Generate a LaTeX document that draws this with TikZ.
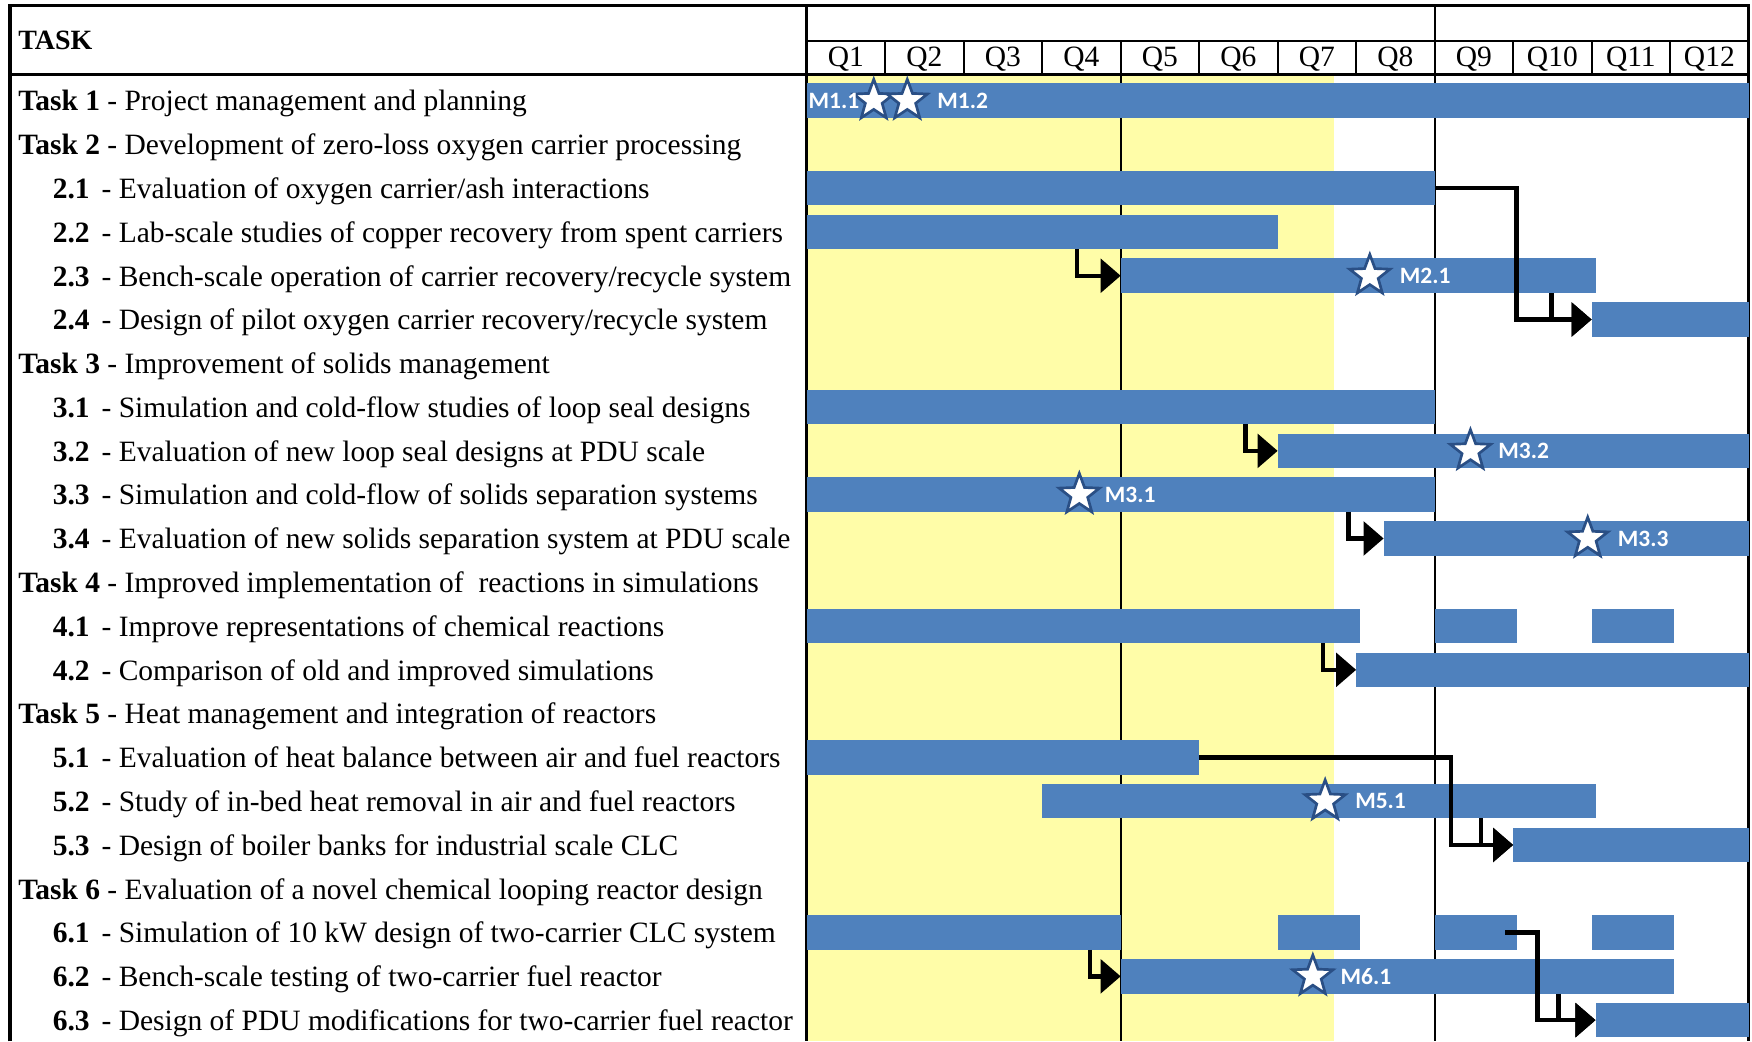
\documentclass[tikz,border=0pt]{standalone}
\usepackage{fontspec}
\setmainfont{Liberation Serif}
\newfontfamily\barfont{Carlito}
\usepackage{tikz}
\usetikzlibrary{arrows.meta,positioning,shapes.geometric,fit,calc}
\definecolor{barblue}{HTML}{4F81BD}
\definecolor{starline}{HTML}{2A4F85}
\definecolor{phaseyellow}{HTML}{FFFDA8}
\tikzset{
  taskbar/.style={fill=barblue,inner sep=0pt,outer sep=0pt},
  tasktext/.style={anchor=base west,inner sep=0pt,font=\fontsize{13.2}{15}\selectfont},
  qtext/.style={anchor=base,inner sep=0pt,font=\fontsize{13.2}{15}\selectfont},
  mstar/.style={star,star points=5,star point ratio=2.4,minimum size=19pt,inner sep=0pt,fill=white,draw=starline,line width=1.2pt},
  mlabel/.style={inner sep=1pt,text=white,font=\barfont\bfseries\fontsize{10.5}{12}\selectfont},
  dep/.style={-{Triangle[length=9pt,width=15pt]},line width=2pt,black},
  frameline/.style={line width=1.4pt},
  gridline/.style={line width=0.9pt}
}

\begin{document}
\begin{tikzpicture}[x=35.125pt,y=-19.595pt]
\useasboundingbox (-10.278,-1.322) rectangle (12.043,22.46);
\fill[phaseyellow] (0,0.388) rectangle (6.72,22.46);
\draw[gridline] (4,0.388) -- (4,22.46);
\draw[gridline] (8,-1.194) -- (8,22.46);
\draw[gridline] (0,-0.378) -- (12,-0.378);
\foreach \q in {1,...,11} \draw[gridline] (\q,-0.378) -- (\q,0.388);
\foreach \q in {1,...,12} \node[qtext] (q\q) at (\q-0.5,0.19) {Q\q};
\draw[frameline] (-10.15,22.46) -- (-10.15,-1.194) -- (12,-1.194) -- (12,22.46);
\draw[frameline] (-10.15,0.388) -- (12,0.388);
\draw[frameline] (0,-1.194) -- (0,22.46);
\node[tasktext,font=\bfseries\fontsize{12.5}{15}\selectfont] (head) at (-10.05,-0.2) {TASK};

\node[tasktext] (t1) at (-10.05,1.21) {\textbf{Task 1} - Project management and planning};
\node[tasktext] (t2) at (-10.05,2.21) {\textbf{Task 2} - Development of zero-loss oxygen carrier processing};
\node[tasktext] (t21) at (-9.61,3.21) {\textbf{2.1}\hspace{2pt} - Evaluation of oxygen carrier/ash interactions};
\node[tasktext] (t22) at (-9.61,4.21) {\textbf{2.2}\hspace{2pt} - Lab-scale studies of copper recovery from spent carriers};
\node[tasktext] (t23) at (-9.61,5.21) {\textbf{2.3}\hspace{2pt} - Bench-scale operation of carrier recovery/recycle system};
\node[tasktext] (t24) at (-9.61,6.21) {\textbf{2.4}\hspace{2pt} - Design of pilot oxygen carrier recovery/recycle system};
\node[tasktext] (t3) at (-10.05,7.21) {\textbf{Task 3} - Improvement of solids management};
\node[tasktext] (t31) at (-9.61,8.21) {\textbf{3.1}\hspace{2pt} - Simulation and cold-flow studies of loop seal designs};
\node[tasktext] (t32) at (-9.61,9.21) {\textbf{3.2}\hspace{2pt} - Evaluation of new loop seal designs at PDU scale};
\node[tasktext] (t33) at (-9.61,10.21) {\textbf{3.3}\hspace{2pt} - Simulation and cold-flow of solids separation systems};
\node[tasktext] (t34) at (-9.61,11.21) {\textbf{3.4}\hspace{2pt} - Evaluation of new solids separation system at PDU scale};
\node[tasktext] (t4) at (-10.05,12.21) {\textbf{Task 4} - Improved implementation of \ reactions in simulations};
\node[tasktext] (t41) at (-9.61,13.21) {\textbf{4.1}\hspace{2pt} - Improve representations of chemical reactions};
\node[tasktext] (t42) at (-9.61,14.21) {\textbf{4.2}\hspace{2pt} - Comparison of old and improved simulations};
\node[tasktext] (t5) at (-10.05,15.21) {\textbf{Task 5} - Heat management and integration of reactors};
\node[tasktext] (t51) at (-9.61,16.21) {\textbf{5.1}\hspace{2pt} - Evaluation of heat balance between air and fuel reactors};
\node[tasktext] (t52) at (-9.61,17.21) {\textbf{5.2}\hspace{2pt} - Study of in-bed heat removal in air and fuel reactors};
\node[tasktext] (t53) at (-9.61,18.21) {\textbf{5.3}\hspace{2pt} - Design of boiler banks for industrial scale CLC};
\node[tasktext] (t6) at (-10.05,19.21) {\textbf{Task 6} - Evaluation of a novel chemical looping reactor design};
\node[tasktext] (t61) at (-9.61,20.21) {\textbf{6.1}\hspace{2pt} - Simulation of 10 kW design of two-carrier CLC system};
\node[tasktext] (t62) at (-9.61,21.21) {\textbf{6.2}\hspace{2pt} - Bench-scale testing of two-carrier fuel reactor};
\node[tasktext] (t63) at (-9.61,22.21) {\textbf{6.3}\hspace{2pt} - Design of PDU modifications for two-carrier fuel reactor};

\node[taskbar,fit={(0,0.58) (12,1.37)}] (b1) {};
\node[taskbar,fit={(0,2.58) (8,3.37)}] (b21) {};
\node[taskbar,fit={(0,3.58) (6,4.37)}] (b22) {};
\node[taskbar,fit={(4,4.58) (10.05,5.37)}] (b23) {};
\node[taskbar,fit={(10,5.58) (12,6.37)}] (b24) {};
\node[taskbar,fit={(0,7.58) (8,8.37)}] (b31) {};
\node[taskbar,fit={(6,8.58) (12,9.37)}] (b32) {};
\node[taskbar,fit={(0,9.58) (8,10.37)}] (b33) {};
\node[taskbar,fit={(7.35,10.58) (12,11.37)}] (b34) {};
\node[taskbar,fit={(0,12.58) (7.05,13.37)}] (b41a) {};
\node[taskbar,fit={(8,12.58) (9.05,13.37)}] (b41b) {};
\node[taskbar,fit={(10,12.58) (11.05,13.37)}] (b41c) {};
\node[taskbar,fit={(7,13.58) (12,14.37)}] (b42) {};
\node[taskbar,fit={(0,15.58) (5,16.37)}] (b51) {};
\node[taskbar,fit={(3,16.58) (10.05,17.37)}] (b52) {};
\node[taskbar,fit={(9,17.58) (12,18.37)}] (b53) {};
\node[taskbar,fit={(0,19.58) (4,20.37)}] (b61a) {};
\node[taskbar,fit={(6,19.58) (7.05,20.37)}] (b61b) {};
\node[taskbar,fit={(8,19.58) (9.05,20.37)}] (b61c) {};
\node[taskbar,fit={(10,19.58) (11.05,20.37)}] (b61d) {};
\node[taskbar,fit={(4,20.58) (11.05,21.37)}] (b62) {};
\node[taskbar,fit={(10.05,21.58) (12,22.37)}] (b63) {};

\draw[dep] ($(b22.south west)+(3.44,0)$) |- (b23.west);
\draw[dep] (b21.east) -- ++(1.04,0) |- (b24.west);
\draw[dep] ($(b23.south west)+(5.49,0)$) |- (b24.west);
\draw[dep] ($(b31.south west)+(5.59,0)$) |- (b32.west);
\draw[dep] ($(b33.south west)+(6.90,0)$) |- (b34.west);
\draw[dep] ($(b41a.south west)+(6.58,0)$) |- (b42.west);
\draw[dep] (b51.east) -- ++(3.21,0) |- (b53.west);
\draw[dep] ($(b52.south west)+(5.59,0)$) |- (b53.west);
\draw[dep] ($(b61a.south west)+(3.61,0)$) |- (b62.west);
\draw[dep] ($(b61c.east)+(-0.15,0)$) -- ++(0.41,0) |- (b63.west);
\draw[dep] ($(b62.south west)+(5.58,0)$) |- (b63.west);

\node[mstar] (m11) at (0.854,0.975) {};
\node[mstar] (m12) at (1.281,0.975) {};
\node[mstar] (m21) at (7.174,4.975) {};
\node[mstar] (m32) at (8.456,8.975) {};
\node[mstar] (m31) at (3.473,9.975) {};
\node[mstar] (m33) at (9.95,10.975) {};
\node[mstar] (m51) at (6.605,16.975) {};
\node[mstar] (m61) at (6.448,20.975) {};
\node[mlabel,left=-1pt of m11] (l11) {M1.1};
\node[mlabel,right=6pt of m12] (l12) {M1.2};
\node[mlabel,right=6pt of m21] (l21) {M2.1};
\node[mlabel,right=5pt of m32] (l32) {M3.2};
\node[mlabel,right=4pt of m31] (l31) {M3.1};
\node[mlabel,right=6pt of m33] (l33) {M3.3};
\node[mlabel,right=6pt of m51] (l51) {M5.1};
\node[mlabel,right=5pt of m61] (l61) {M6.1};
\end{tikzpicture}
\end{document}
